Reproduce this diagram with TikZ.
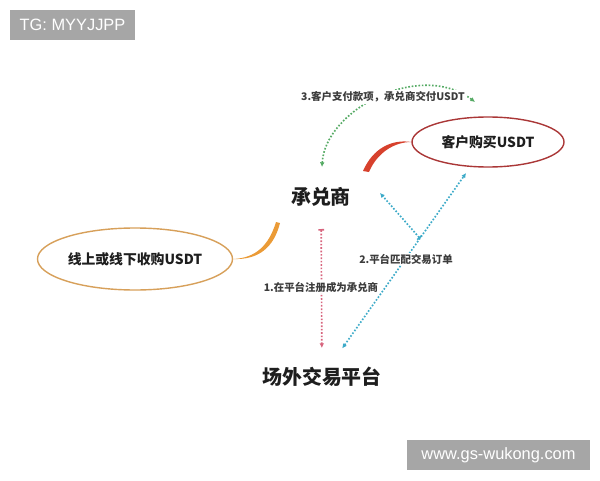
\documentclass[tikz,border=0pt]{standalone}
\usepackage{fontspec}
\setmainfont{Liberation Sans}
\newfontfamily\cjk{Noto Sans CJK SC}
\usetikzlibrary{arrows.meta,shapes.geometric,calc}
\definecolor{marca}{RGB}{166,166,166}
\definecolor{textoscuro}{RGB}{30,30,30}
\definecolor{textogris}{RGB}{60,60,60}
\definecolor{rojoborde}{RGB}{170,55,55}
\definecolor{rojotrazo}{RGB}{215,65,45}
\definecolor{naranjaborde}{RGB}{215,160,90}
\definecolor{naranjatrazo}{RGB}{235,155,55}
\definecolor{azulpunto}{RGB}{60,170,200}
\definecolor{verdepunto}{RGB}{85,170,100}
\definecolor{rosapunto}{RGB}{215,100,125}
\tikzset{
  marcabox/.style={fill=marca, text=white, inner sep=0pt, font=\fontsize{14}{16}\selectfont},
  grande/.style={font=\cjk\bfseries\fontsize{17}{20}\selectfont, text=textoscuro},
  elipse/.style={ellipse, line width=1.2pt, inner sep=0pt, font=\cjk\bfseries\fontsize{11.8}{14}\selectfont, text=textoscuro},
  etiqueta/.style={fill=white, inner sep=1pt, font=\cjk\bfseries\fontsize{8.9}{10}\selectfont, text=textogris},
  punteada/.style={line width=1.4pt, dash pattern=on 1.4pt off 1.5pt},
}
\begin{document}
\begin{tikzpicture}[x=0.03cm,y=-0.03cm]
\useasboundingbox (0,0) rectangle (600,480);
%
% marcas de agua
\node[marcabox, minimum width=3.75cm, minimum height=0.9cm] (tg) at (72.5,25) {TG: MYYJJPP};
\node[marcabox, minimum width=5.49cm, minimum height=0.9cm] (web) at (498.5,455) {www.gs-wukong.com};
%
% nodos principales
\node[grande] (broker) at (321,197) {承兑商};
\node[grande] (platform) at (322,377) {场外交易平台};
\node[elipse, draw=rojoborde, minimum width=4.56cm, minimum height=1.5cm] (buy) at (488,142) {客户购买USDT};
\node[elipse, draw=naranjaborde, minimum width=5.85cm, minimum height=1.86cm] (offline) at (135,259) {线上或线下收购USDT};
%
% ramas gruesas
\fill[rojotrazo] (buy.west) .. controls (392,139) and (373,148) .. (363,171)
  -- (369,172) .. controls (377,153) and (394,142) .. (buy.west) -- cycle;
\fill[naranjatrazo] (offline.east) .. controls (256,258) and (269,245) .. (276,222)
  -- (280,223) .. controls (274,247) and (259,260) .. (offline.east) -- cycle;
%
% flechas punteadas
\coordinate (cruce) at ($(platform)!0.59!(buy)$);
\coordinate (punta) at (380,193);
\coordinate (g1) at (322,167);
\coordinate (g2) at (475,102);
\draw[punteada, rosapunto, {Bar[width=5pt]}-{Latex[length=4pt,width=4pt]},
  shorten <=0.96cm, shorten >=0.87cm] (broker.center) -- (platform.center);
\draw[punteada, azulpunto, {Latex[length=4pt,width=4pt]}-{Latex[length=4pt,width=4pt]},
  shorten <=1.05cm, shorten >=1.14cm] (platform.center) -- (buy.center);
\draw[punteada, azulpunto, {Bar[width=5pt]}-{Latex[length=4pt,width=4pt]}] (cruce) -- (punta);
\draw[punteada, verdepunto, {Latex[length=4pt,width=4pt]}-{Latex[length=4pt,width=4pt]}]
  (g1) .. controls (325,110) and (420,60) .. (g2);
%
% etiquetas
\node[etiqueta] (l1) at (321,287) {1.在平台注册成为承兑商};
\node[etiqueta] (l2) at (406,259) {2.平台匹配交易订单};
\node[etiqueta] (l3) at (383,97) {3.客户支付款项，承兑商交付USDT};
%
\end{tikzpicture}
\end{document}
